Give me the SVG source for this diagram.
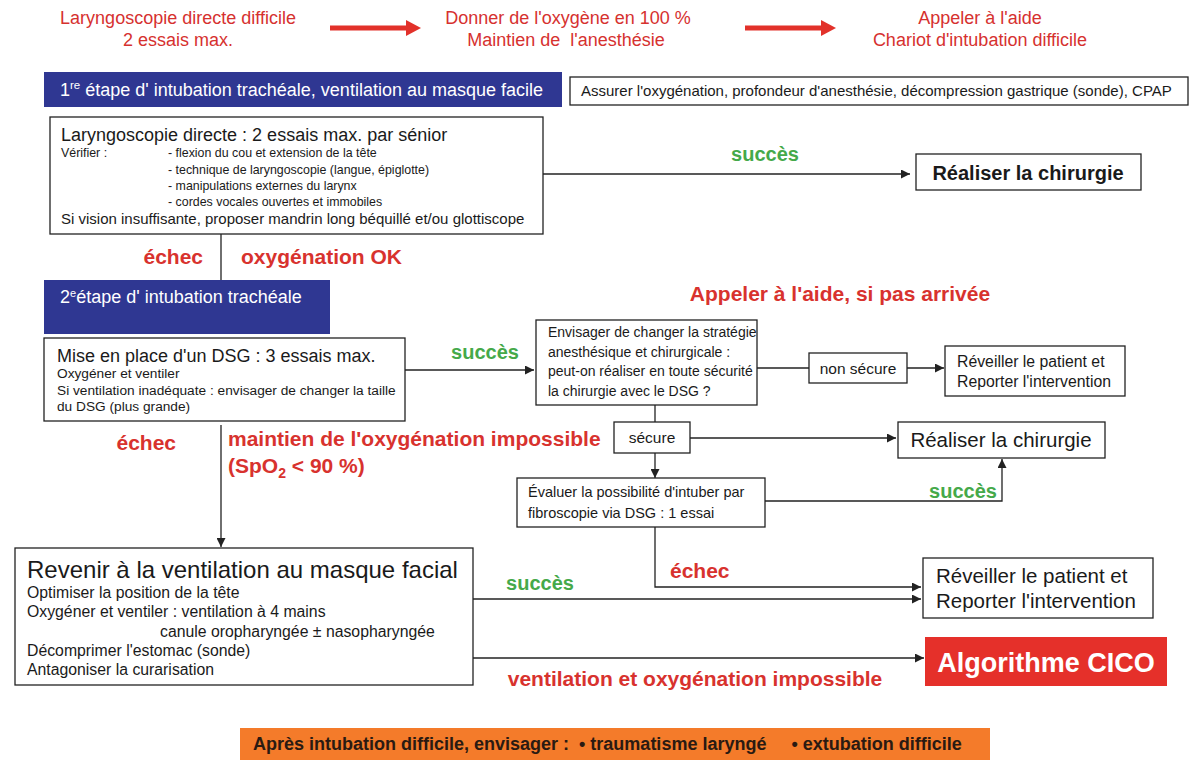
<svg xmlns="http://www.w3.org/2000/svg" width="1200" height="774" viewBox="0 0 1200 774">
<style>
text{font-family:"Liberation Sans",Arial,sans-serif;fill:#1a1a1a}
.top{font-size:18px;fill:#d6312f;text-anchor:middle}
.box{fill:#fff;stroke:#222;stroke-width:1.3}
.blue{fill:#2f3792}
.lbr{font-size:21px;font-weight:bold;fill:#d8322e}
.lbg{font-size:20px;font-weight:bold;fill:#45a94a}
.s13{font-size:12.4px}
.s14{font-size:14px}
.s15{font-size:15.8px}
.ln{fill:none;stroke:#222;stroke-width:1.3}
</style>
<defs>
<marker id="ah" viewBox="0 0 10 10" refX="10" refY="5" markerWidth="9" markerHeight="9" markerUnits="userSpaceOnUse" orient="auto"><path d="M0,0L10,5L0,10z" fill="#222"/></marker>
</defs>
<rect width="1200" height="774" fill="#fff"/>

<g id="header">
<text class="top" x="178" y="24">Laryngoscopie directe difficile</text>
<text class="top" x="178" y="46">2 essais max.</text>
<text class="top" x="568" y="24">Donner de l'oxygène en 100 %</text>
<text class="top" x="566" y="46" xml:space="preserve">Maintien de  l'anesthésie</text>
<text class="top" x="980" y="24">Appeler à l'aide</text>
<text class="top" x="980" y="46">Chariot d'intubation difficile</text>
<path d="M330,28H408" stroke="#e2312a" stroke-width="5"/><path d="M406,20L421,28L406,36z" fill="#e2312a"/>
<path d="M745,28H823" stroke="#e2312a" stroke-width="5"/><path d="M821,20L836,28L821,36z" fill="#e2312a"/>
</g>

<g id="connectors">
<path class="ln" d="M543,174H910" marker-end="url(#ah)"/>
<path class="ln" d="M221,234V280"/>
<path class="ln" d="M405,370H534" marker-end="url(#ah)"/>
<path class="ln" d="M757,368H809"/>
<path class="ln" d="M907,368H944" marker-end="url(#ah)"/>
<path class="ln" d="M655,405V422"/>
<path class="ln" d="M690,438H896" marker-end="url(#ah)"/>
<path class="ln" d="M655,453V478" marker-end="url(#ah)"/>
<path class="ln" d="M765,501H1002V459" marker-end="url(#ah)"/>
<path class="ln" d="M655,527V587H921" marker-end="url(#ah)"/>
<path class="ln" d="M221,425V547" marker-end="url(#ah)"/>
<path class="ln" d="M473,599H921" marker-end="url(#ah)"/>
<path class="ln" d="M473,658H924" marker-end="url(#ah)"/>
</g>

<g id="labels">
<text class="lbg" x="765" y="161" text-anchor="middle">succès</text>
<text class="lbr" x="203" y="264" text-anchor="end">échec</text>
<text class="lbr" x="241" y="264">oxygénation OK</text>
<text class="lbg" x="485" y="359" text-anchor="middle">succès</text>
<text class="lbr" x="840" y="301" text-anchor="middle">Appeler à l'aide, si pas arrivée</text>
<text class="lbr" x="176" y="450" text-anchor="end">échec</text>
<text class="lbr" x="228" y="446">maintien de l'oxygénation impossible</text>
<text class="lbr" x="228" y="473">(SpO<tspan font-size="14" dy="5">2</tspan><tspan dy="-5"> &lt; 90 %)</tspan></text>
<text class="lbg" x="963" y="498" text-anchor="middle">succès</text>
<text class="lbr" x="670" y="578">échec</text>
<text class="lbg" x="540" y="590" text-anchor="middle">succès</text>
<text class="lbr" x="695" y="686" text-anchor="middle">ventilation et oxygénation impossible</text>
</g>

<g id="step1">
<rect class="blue" x="44" y="72" width="518" height="35"/>
<text x="60" y="96" font-size="18" style="fill:#fff">1<tspan font-size="11.5" dy="-7">re</tspan><tspan dy="7"> étape d' intubation trachéale, ventilation au masque facile</tspan></text>
</g>

<g id="assurer">
<rect class="box" x="570" y="77" width="618" height="28"/>
<text x="581" y="96" font-size="15">Assurer l'oxygénation, profondeur d'anesthésie, décompression gastrique (sonde), CPAP</text>
</g>

<g id="laryngo">
<rect class="box" x="50" y="117" width="493" height="117"/>
<text x="61" y="141" font-size="18">Laryngoscopie directe : 2 essais max. par sénior</text>
<text class="s13" x="61" y="157">Vérifier :</text>
<text class="s13" x="168" y="157">- flexion du cou et extension de la tête</text>
<text class="s13" x="168" y="174">- technique de laryngoscopie (langue, épiglotte)</text>
<text class="s13" x="168" y="190">- manipulations externes du larynx</text>
<text class="s13" x="168" y="206">- cordes vocales ouvertes et immobiles</text>
<text x="61" y="224" font-size="15">Si vision insuffisante, proposer mandrin long béquillé et/ou glottiscope</text>
</g>

<g id="realiser1">
<rect class="box" x="916" y="154" width="225" height="36"/>
<text x="1028" y="180" font-size="20" font-weight="bold" text-anchor="middle">Réaliser la chirurgie</text>
</g>

<g id="step2">
<rect class="blue" x="44" y="280" width="286" height="54"/>
<text x="60" y="303" font-size="18" style="fill:#fff">2<tspan font-size="11" dy="-6">e</tspan><tspan dy="6">étape d' intubation trachéale</tspan></text>
</g>

<g id="dsg">
<rect class="box" x="44" y="338" width="361" height="83"/>
<text x="57" y="362" font-size="18">Mise en place d'un DSG : 3 essais max.</text>
<text x="57" y="378" font-size="13.7">Oxygéner et ventiler</text>
<text x="57" y="395" font-size="13.7">Si ventilation inadéquate : envisager de changer la taille</text>
<text x="57" y="411" font-size="13.7">du DSG (plus grande)</text>
</g>

<g id="envisager">
<rect class="box" x="536" y="320" width="221" height="85"/>
<text class="s14" x="548" y="337">Envisager de changer la stratégie</text>
<text class="s14" x="548" y="357">anesthésique et chirurgicale :</text>
<text class="s14" x="548" y="376">peut-on réaliser en toute sécurité</text>
<text class="s14" x="548" y="396">la chirurgie avec le DSG ?</text>
</g>

<g id="nonsecure">
<rect class="box" x="809" y="353" width="98" height="30"/>
<text x="858" y="374" font-size="15.5" text-anchor="middle">non sécure</text>
</g>

<g id="reveiller1">
<rect class="box" x="945" y="346" width="180" height="50"/>
<text class="s15" x="957" y="367">Réveiller le patient et</text>
<text class="s15" x="957" y="387">Reporter l'intervention</text>
</g>

<g id="secure">
<rect class="box" x="614" y="422" width="76" height="31"/>
<text x="652" y="443" font-size="15.5" text-anchor="middle">sécure</text>
</g>

<g id="realiser2">
<rect class="box" x="898" y="422" width="207" height="36"/>
<text x="1001" y="447" font-size="20.5" text-anchor="middle">Réaliser la chirurgie</text>
</g>

<g id="evaluer">
<rect class="box" x="517" y="478" width="248" height="49"/>
<text x="528" y="497" font-size="14.5">Évaluer la possibilité d'intuber par</text>
<text x="528" y="518" font-size="14.5">fibroscopie via DSG : 1 essai</text>
</g>

<g id="revenir">
<rect class="box" x="15" y="548" width="458" height="137"/>
<text x="27" y="578" font-size="24">Revenir à la ventilation au masque facial</text>
<text class="s15" x="27" y="598">Optimiser la position de la tête</text>
<text class="s15" x="27" y="617">Oxygéner et ventiler : ventilation à 4 mains</text>
<text class="s15" x="160" y="637">canule oropharyngée ± nasopharyngée</text>
<text class="s15" x="27" y="656">Décomprimer l'estomac (sonde)</text>
<text class="s15" x="27" y="675">Antagoniser la curarisation</text>
</g>

<g id="reveiller2">
<rect class="box" x="923" y="558" width="230" height="60"/>
<text x="936" y="583" font-size="20.5">Réveiller le patient et</text>
<text x="936" y="608" font-size="20.5">Reporter l'intervention</text>
</g>

<g id="cico">
<rect x="925" y="637" width="242" height="49" fill="#e5302a"/>
<text x="1046" y="672" font-size="27" font-weight="bold" text-anchor="middle" style="fill:#fff">Algorithme CICO</text>
</g>

<g id="footer">
<rect x="240" y="728" width="750" height="32" fill="#f47b2a"/>
<text x="253" y="750" font-size="18" font-weight="bold" xml:space="preserve" style="fill:#2a1a12">Après intubation difficile, envisager :  • traumatisme laryngé     • extubation difficile</text>
</g>
</svg>
